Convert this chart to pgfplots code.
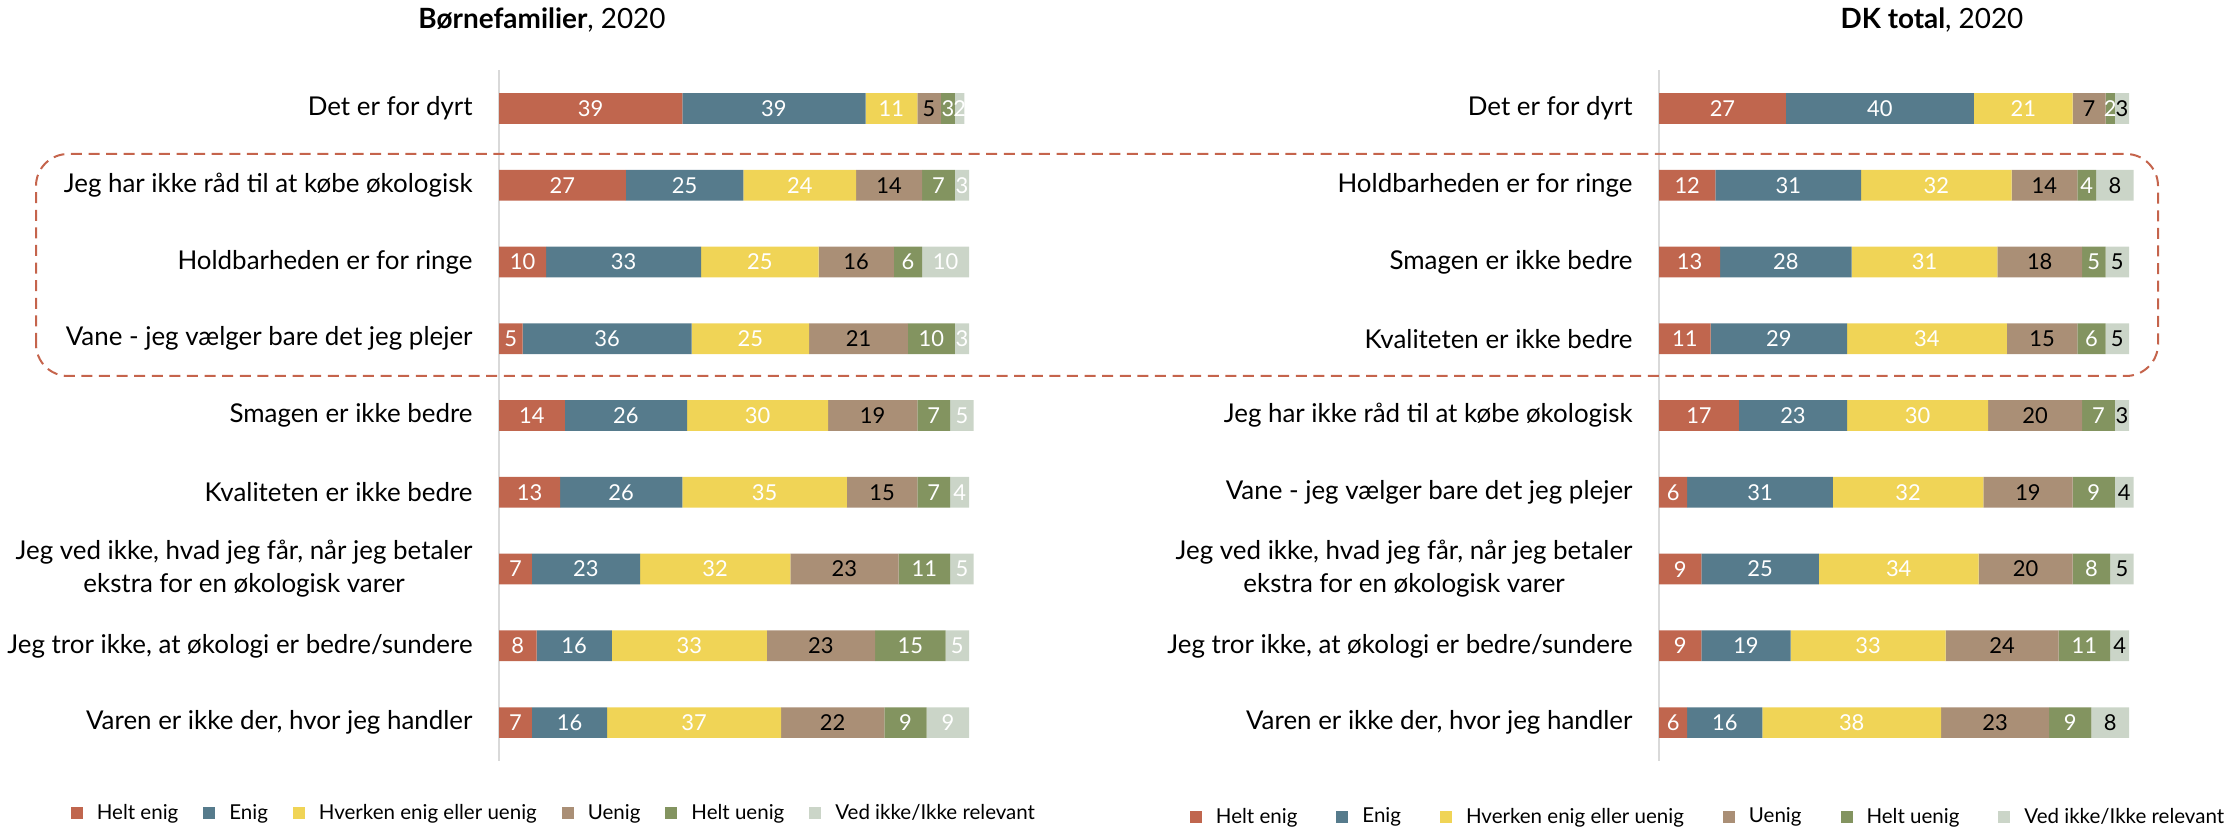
\documentclass[border=0pt]{standalone}
\usepackage{pgfplots}
\usepackage{pgfplotstable}
\pgfplotsset{compat=1.18}
\usepackage{fontspec}
\setmainfont{Lato}

\definecolor{hecol}{RGB}{192,102,78}
\definecolor{encol}{RGB}{86,123,140}
\definecolor{hvcol}{RGB}{240,212,86}
\definecolor{uecol}{RGB}{170,143,118}
\definecolor{hucol}{RGB}{131,148,96}
\definecolor{vicol}{RGB}{203,213,200}
\definecolor{dashcol}{RGB}{197,100,76}
\definecolor{axgray}{RGB}{217,217,217}

% Boernefamilier 2020
\pgfplotstableread{
idx he en hv ue hu vi
0 39 39 11 5 3 2
1 27 25 24 14 7 3
2 10 33 25 16 6 10
3 5 36 25 21 10 3
4 14 26 30 19 7 5
5 13 26 35 15 7 4
6 7 23 32 23 11 5
7 8 16 33 23 15 5
8 7 16 37 22 9 9
}\boernetab

% DK total 2020
\pgfplotstableread{
idx he en hv ue hu vi
0 27 40 21 7 2 3
1 12 31 32 14 4 8
2 13 28 31 18 5 5
3 11 29 34 15 6 5
4 17 23 30 20 7 3
5 6 31 32 19 9 4
6 9 25 34 20 8 5
7 9 19 33 24 11 4
8 6 16 38 23 9 8
}\dktab

\pgfplotsset{
  segbars/.style={
    xbar stacked, bar width=0.4,
    scale only axis, width=235bp, height=345.5bp,
    xmin=0, xmax=100, ymin=-0.5, ymax=8.5, y dir=reverse,
    axis x line=none, axis y line*=left,
    y axis line style={draw=axgray, line width=1bp},
    ytick={0,...,8}, major tick length=0pt,
    yticklabel style={font=\fontsize{13}{16.5}\selectfont, align=center, inner sep=0pt, xshift=-13bp},
    /pgf/number format/assume math mode=true,
    point meta=explicit,
    nodes near coords,
    every node near coord/.append style={font=\fontsize{11}{12}\selectfont, anchor=center,
      text=white, inner sep=0pt},
    clip=false,
    legend columns=6,
    legend cell align=left,
    legend image code/.code={\fill[#1] (0bp,-3bp) rectangle (6bp,3bp);},
  }
}

\begin{document}
\begin{tikzpicture}
\path[use as bounding box] (0,0) rectangle (1112.5bp,413.5bp);

\begin{axis}[segbars, at={(249.5bp,33bp)}, anchor=south west,
  yticklabels={Det er for dyrt, Jeg har ikke råd til at købe økologisk, Holdbarheden er for ringe,
    Vane - jeg vælger bare det jeg plejer, Smagen er ikke bedre, Kvaliteten er ikke bedre,
    {Jeg ved ikke, hvad jeg får, når jeg betaler\\ekstra for en økologisk varer},
    {Jeg tror ikke, at økologi er bedre/sundere}, {Varen er ikke der, hvor jeg handler}},
  legend style={at={(-0.911,-0.0753)}, anchor=west, draw=none, inner sep=0pt, outer sep=0pt,
    font=\fontsize{10.3}{12}\selectfont,
    /tikz/every odd column/.append style={column sep=5bp},
    /tikz/every even column/.append style={column sep=10.5bp}},
]
\addplot[fill=hecol, draw=none] table[x=he, y=idx, meta=he] {\boernetab};
\addplot[fill=encol, draw=none] table[x=en, y=idx, meta=en] {\boernetab};
\addplot[fill=hvcol, draw=none] table[x=hv, y=idx, meta=hv] {\boernetab};
\addplot[fill=uecol, draw=none, every node near coord/.append style={text=black}] table[x=ue, y=idx, meta=ue] {\boernetab};
\addplot[fill=hucol, draw=none] table[x=hu, y=idx, meta=hu] {\boernetab};
\addplot[fill=vicol, draw=none] table[x=vi, y=idx, meta=vi] {\boernetab};
\legend{Helt enig, Enig, Hverken enig eller uenig, Uenig, Helt uenig, Ved ikke/Ikke relevant}
\end{axis}

\begin{axis}[segbars, at={(829.5bp,33bp)}, anchor=south west,
  yticklabels={Det er for dyrt, Holdbarheden er for ringe, Smagen er ikke bedre, Kvaliteten er ikke bedre,
    Jeg har ikke råd til at købe økologisk, Vane - jeg vælger bare det jeg plejer,
    {Jeg ved ikke, hvad jeg får, når jeg betaler\\ekstra for en økologisk varer},
    {Jeg tror ikke, at økologi er bedre/sundere}, {Varen er ikke der, hvor jeg handler}},
  legend style={at={(-0.998,-0.081)}, anchor=west, draw=none, inner sep=0pt, outer sep=0pt,
    font=\fontsize{10.3}{12}\selectfont,
    /tikz/every odd column/.append style={column sep=5bp},
    /tikz/every even column/.append style={column sep=17.5bp}},
]
\addplot[fill=hecol, draw=none] table[x=he, y=idx, meta=he] {\dktab};
\addplot[fill=encol, draw=none] table[x=en, y=idx, meta=en] {\dktab};
\addplot[fill=hvcol, draw=none] table[x=hv, y=idx, meta=hv] {\dktab};
\addplot[fill=uecol, draw=none, every node near coord/.append style={text=black}] table[x=ue, y=idx, meta=ue] {\dktab};
\addplot[fill=hucol, draw=none] table[x=hu, y=idx, meta=hu] {\dktab};
\addplot[fill=vicol, draw=none, every node near coord/.append style={text=black}] table[x=vi, y=idx, meta=vi] {\dktab};
\legend{Helt enig, Enig, Hverken enig eller uenig, Uenig, Helt uenig, Ved ikke/Ikke relevant}
\end{axis}

% titles
\node[font=\fontsize{14}{16}\selectfont] at (271bp,403.5bp) {\textbf{Børnefamilier}, 2020};
\node[font=\fontsize{14}{16}\selectfont] at (966bp,403.5bp) {\textbf{DK total}, 2020};

% highlight box
\draw[dashcol, line width=1bp, dash pattern=on 5.5bp off 3.3bp, rounded corners=16bp]
  (18bp,225.5bp) rectangle (1079bp,336.5bp);
\end{tikzpicture}
\end{document}
